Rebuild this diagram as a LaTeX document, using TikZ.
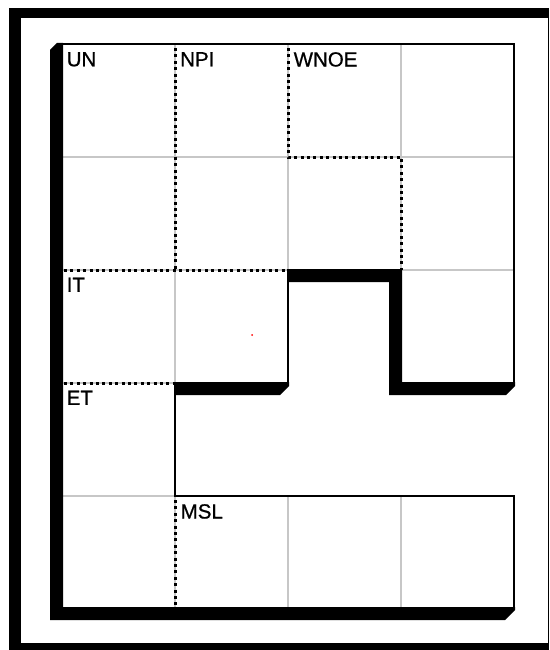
\documentclass[tikz,border=0pt]{standalone}
\usepackage{fontspec}
\setmainfont{Liberation Sans}
\newfontfamily\plainlbl{Liberation Sans}[FakeBold=0.8]
\usetikzlibrary{positioning}

\begin{document}
\begin{tikzpicture}[
  x=1pt, y=-1pt,
  cellline/.style={draw=black!22, line width=1.6pt},
  partition/.style={draw=black, line width=3pt, dash pattern=on 3pt off 3.4pt},
  outline/.style={draw=black, line width=2.2pt, line join=miter},
  extrude/.style={fill=black},
  lbl/.style={anchor=north west, inner sep=0pt, font=\plainlbl\fontsize{20.5}{24}\selectfont}
]
\useasboundingbox (0,0) rectangle (549,650);
\fill[black] (9,8) rectangle (549,650);
\fill[white] (21,18) rectangle (547.5,643);

\draw[cellline] (175,44) -- (175,383);
\draw[cellline] (288,44) -- (288,270);
\draw[cellline] (401,44) -- (401,270);
\draw[cellline] (175,496) -- (175,608);
\draw[cellline] (288,496) -- (288,608);
\draw[cellline] (401,496) -- (401,608);
\draw[cellline] (62,157) -- (514,157);
\draw[cellline] (62,270) -- (514,270);
\draw[cellline] (62,383) -- (175,383);
\draw[cellline] (62,496) -- (175,496);

\draw[partition] (175,48) -- (175,270);
\draw[partition] (288,48) -- (288,157) -- (401,157) -- (401,270);
\draw[partition] (64,270) -- (288,270);
\draw[partition] (64,383) -- (175,383);
\draw[partition] (175,500) -- (175,608);

\draw[outline] (62,44) -- (514,44) -- (514,383) -- (401,383) -- (401,270) -- (288,270)
  -- (288,383) -- (175,383) -- (175,496) -- (514,496) -- (514,608) -- (62,608) -- cycle;

\fill[extrude] (63,43) -- (57,43) -- (50,50) -- (50,620) -- (505,620) -- (515,610)
  -- (515,607) -- (63,607) -- cycle;
\fill[extrude] (175,382) -- (289,382) -- (289,386) -- (280,395) -- (175,395) -- cycle;
\fill[extrude] (287,269) -- (402,269) -- (402,382) -- (515,382) -- (515,386) -- (506,395)
  -- (389,395) -- (389,282) -- (287,282) -- cycle;

\node[lbl] (un) at (66.5,52) {UN};
\node[lbl] (npi) at (180,52) {NPI};
\node[lbl] (wnoe) at (293.5,52) {WNOE};
\node[lbl] (it) at (66.5,277.5) {IT};
\node[lbl] (et) at (66.5,390.5) {ET};
\node[lbl] (msl) at (180.5,504) {MSL};

\fill[red] (252,335) circle (1pt);
\end{tikzpicture}
\end{document}
